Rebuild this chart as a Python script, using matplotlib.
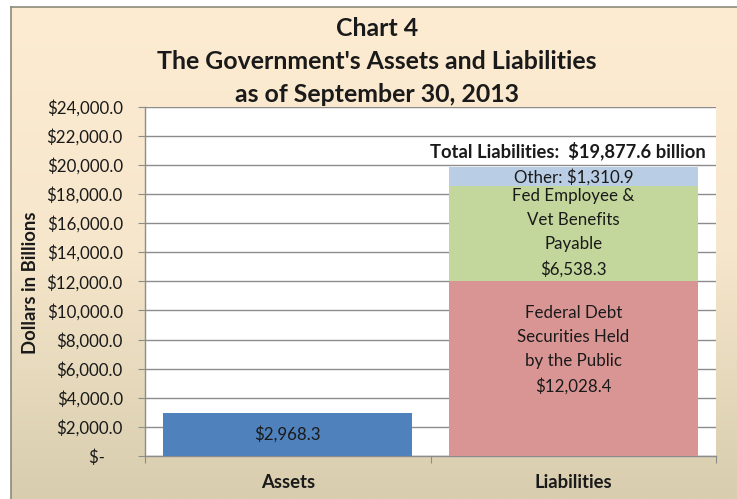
import matplotlib
matplotlib.use("Agg")
import matplotlib.pyplot as plt
import numpy as np
from matplotlib.colors import LinearSegmentedColormap

plt.rcParams['font.family'] = ['Lato', 'DejaVu Sans']

# Data
categories = ["Assets", "Liabilities"]
assets_value = 2968.3
liab_segments = ["Federal Debt\nSecurities Held\nby the Public", "Fed Employee &\nVet Benefits\nPayable", "Other"]
liab_values = [12028.4, 6538.3, 1310.9]
total_liabilities = 19877.6
yticks = list(range(0, 24001, 2000))

colors_liab = ["#D99594", "#C3D69B", "#B9CDE5"]
color_assets = "#4F81BD"

W, H = 737, 499
fig = plt.figure(figsize=(W / 100, H / 100), dpi=100)
fig.patch.set_facecolor("white")

# gradient background panel
bg = fig.add_axes([11 / W, 0, 1 - 11 / W, (H - 7) / H], zorder=0)
cmap = LinearSegmentedColormap.from_list("g", ["#FDECD1", "#F6E6CB", "#D8CDAE"])
grad = np.linspace(0, 1, 256).reshape(-1, 1)
bg.imshow(grad, aspect="auto", cmap=cmap, extent=[0, 1, 0, 1], origin="upper")
bg.set_xlim(0, 1)
bg.set_ylim(0, 1)
bg.set_xticks([])
bg.set_yticks([])
for s in ["right", "bottom"]:
    bg.spines[s].set_visible(False)
for s in ["left", "top"]:
    bg.spines[s].set_color("#8A8A7A")
    bg.spines[s].set_linewidth(1.2)

ax = fig.add_axes([145 / W, (H - 456) / H, (716 - 145) / W, (456 - 106.5) / H], zorder=1)
ax.set_facecolor("white")

x = np.arange(len(categories))
width = 0.873
ax.bar(x[0], assets_value, width=width, color=color_assets, zorder=3)
bottom = 0
for val, c in zip(liab_values, colors_liab):
    ax.bar(x[1], val, width=width, bottom=bottom, color=c, zorder=3)
    bottom += val

ax.set_xlim(-0.5, 1.5)
ax.set_ylim(0, 24000)
ax.set_yticks(yticks)
ax.set_yticklabels([f"${v:,.1f}" if v else "$-    " for v in yticks], fontsize=12.2, color="#1A1A1A")
ax.yaxis.grid(True, color="#8C8C8C", linewidth=1.0, zorder=0)
ax.set_axisbelow(True)
ax.set_xticks([-0.5, 0.5, 1.5], minor=False)
ax.set_xticklabels(["", "", ""])
ax.set_xticks(x, minor=True)
ax.set_xticklabels(categories, minor=True, fontsize=13.3, fontweight="bold", color="#1A1A1A")
ax.tick_params(axis="x", which="minor", length=0, pad=13)
ax.tick_params(axis="x", which="major", length=5, color="#8C8C8C", direction="out")
ax.tick_params(axis="y", length=5, color="#8C8C8C", pad=11)
for s in ["top", "right"]:
    ax.spines[s].set_visible(False)
for s in ["left", "bottom"]:
    ax.spines[s].set_color("#8C8C8C")
    ax.spines[s].set_linewidth(1.0)

fig.text(31 / W, 1 - 283 / H, "Dollars in Billions", rotation=90, ha="center", va="center",
         fontsize=13.3, fontweight="bold", color="#1A1A1A")

# bar labels
ax.text(x[0], assets_value / 2, f"${assets_value:,.1f}", ha="center", va="center", fontsize=12.2, color="#1A1A1A", zorder=4)
label_offsets = [1300, 60, -60]
b = 0
for name, val, off in zip(liab_segments, liab_values, label_offsets):
    mid = b + val / 2 + off
    if name == "Other":
        txt = f"Other: ${val:,.1f}"
    else:
        txt = f"{name}\n${val:,.1f}"
    ax.text(x[1], mid, txt, ha="center", va="center", fontsize=12.2, color="#1A1A1A",
            linespacing=1.62, zorder=4)
    b += val
ax.text(x[1] - 0.02, total_liabilities + 1070, f"Total Liabilities:  ${total_liabilities:,.1f} billion",
        ha="center", va="center", fontsize=13.2, fontweight="bold", color="#1A1A1A", zorder=4,
        bbox=dict(facecolor="white", edgecolor="none", pad=1))

fig.text(377 / W, 1 - 61.5 / H, "Chart 4\nThe Government's Assets and Liabilities\nas of September 30, 2013",
         ha="center", va="center", fontsize=17.9, fontweight="bold", color="#1A1A1A", linespacing=1.5)

fig.savefig("out.png", dpi=100)
